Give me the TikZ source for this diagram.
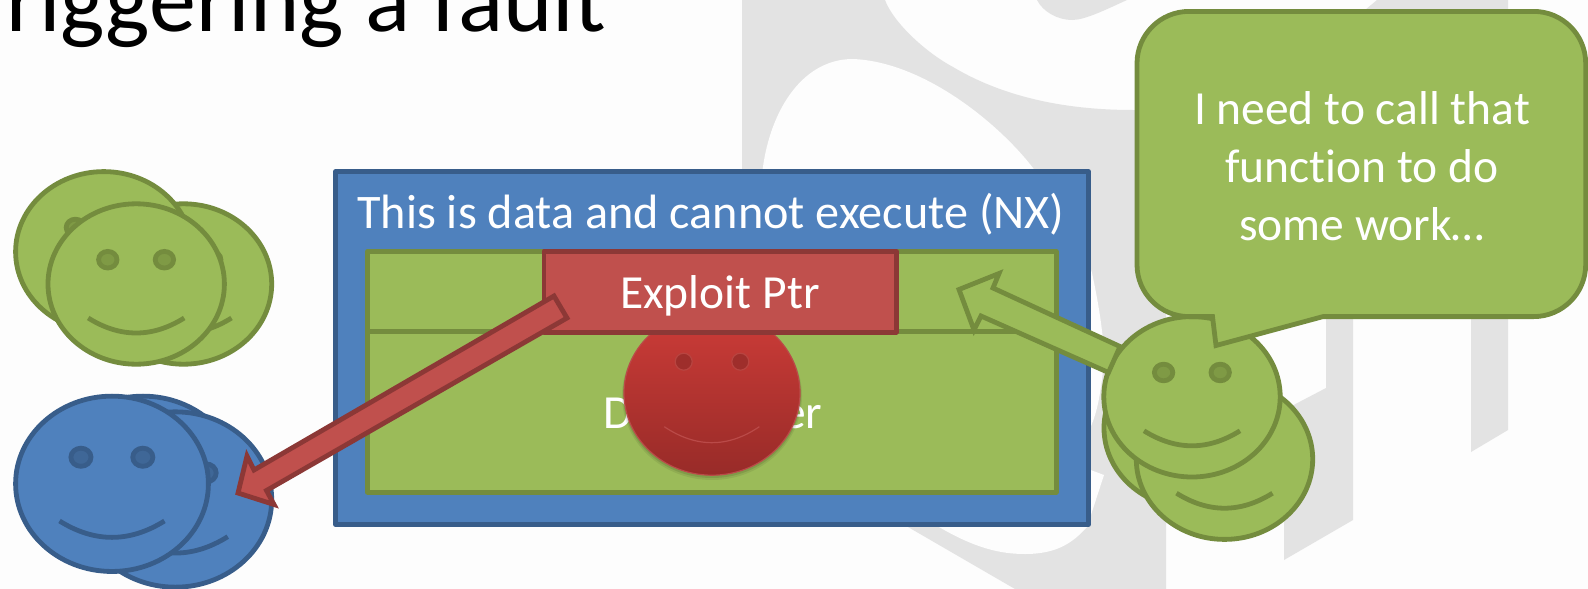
\documentclass[tikz,border=0pt]{standalone}
\usepackage{fontspec}
\setmainfont[Ligatures=NoCommon]{Carlito}
\definecolor{paper}{HTML}{FDFDFD}
\definecolor{mark}{HTML}{E3E3E3}
\definecolor{leaf}{HTML}{9BBB59}
\definecolor{leafedge}{HTML}{748C3E}
\definecolor{leafeye}{HTML}{7F9A45}
\definecolor{sky}{HTML}{4F81BD}
\definecolor{skyedge}{HTML}{385D8A}
\definecolor{skyeye}{HTML}{3F6797}
\definecolor{rust}{HTML}{C0504D}
\definecolor{rustedge}{HTML}{8C3836}
\definecolor{facetop}{RGB}{205,60,56}
\definecolor{facebottom}{RGB}{152,43,40}
\definecolor{faceedge}{RGB}{186,74,72}
\definecolor{facefeature}{RGB}{158,46,43}
\definecolor{facefeatureedge}{RGB}{184,68,64}
\tikzset{
  greenface/.style={fill=leaf,draw=leafedge,line width=4.8pt},
  greeneye/.style={fill=leafeye,draw=leafedge,line width=4.8pt},
  greensmile/.style={draw=leafedge,line width=4.8pt},
  blueface/.style={fill=sky,draw=skyedge,line width=4.8pt},
  blueeye/.style={fill=skyeye,draw=skyedge,line width=4.8pt},
  bluesmile/.style={draw=skyedge,line width=4.8pt},
  greenbox/.style={rectangle,fill=leaf,draw=leafedge,line width=4.8pt,inner sep=0pt,line join=round},
  bluebox/.style={rectangle,fill=sky,draw=skyedge,line width=4.8pt,inner sep=0pt,line join=round},
  redbox/.style={rectangle,fill=rust,draw=rustedge,line width=4.8pt,inner sep=0pt,line join=round},
  redarrow/.style={fill=rust,draw=rustedge,line width=4.8pt,line join=miter},
  greenarrow/.style={fill=leaf,draw=leafedge,line width=4.8pt,line join=miter},
  slidetext/.style={text=white,inner sep=0pt,font=\fontsize{47.5}{58}\selectfont},
  widetext/.style={text=white,inner sep=0pt,font=\fontsize{48.2}{58}\selectfont},
  headline/.style={text=black,inner sep=0pt,font=\fontsize{94}{94}\selectfont},
  watermark/.style={fill=mark,draw=none},
  hole/.style={fill=paper,draw=none},
  redfeature/.style={fill=facefeature,draw=facefeatureedge,line width=1.2pt}
}
% Smiling face: name, centre x, centre y, scale, colour prefix
\newcommand{\smiley}[5]{%
  \begin{scope}[shift={(#2,#3)},scale=#4]
    \coordinate (#1) at (0,0);
    \path[#5face] (0,0) ellipse [x radius=88.2,y radius=80.2];
    \path[#5eye] (-28.4,-24.3) ellipse [x radius=9.2,y radius=8.3];
    \path[#5eye] (28.2,-24.3) ellipse [x radius=9.2,y radius=8.3];
    \path[#5smile] (-48,34) .. controls (-16,54) and (16,54) .. (48,34);
  \end{scope}}
\begin{document}
\begin{tikzpicture}[x=1pt,y=-1pt]
\useasboundingbox (0,0) rectangle (1588,589);
\clip (0,0) rectangle (1588,589);
\fill[paper] (0,0) rectangle (1588,589);

% Grey letterform behind the slide content
\path[watermark] (742,0) -- (885,0)
  .. controls (893,22) and (925,52) .. (953,67)
  .. controls (1000,95) and (1060,110) .. (1133,110)
  -- (1166,110) -- (1166,589) -- (1015,589) -- (908,527) -- (742,400) -- cycle;
\path[hole] (762,175) .. controls (768,115) and (800,59) .. (853,59)
  .. controls (925,62) and (1000,125) .. (1033,168)
  .. controls (1060,205) and (1085,245) .. (1092,273)
  .. controls (1100,310) and (1106,350) .. (1103,370)
  .. controls (1100,400) and (1095,420) .. (1088,432)
  -- (900,400) -- (762,400) -- cycle;
\path[hole] (939,527) .. controls (975,548) and (1000,554) .. (1025,554)
  .. controls (1060,554) and (1075,540) .. (1087,527)
  -- (1104,475) -- (1088,469) -- (939,469) -- cycle;
\path[watermark] (1037,0) .. controls (1043,12) and (1058,20) .. (1072,20)
  .. controls (1085,20) and (1105,10) .. (1127,0) -- cycle;
\path[watermark] (1353,20) -- (1377,0) -- (1508,0) -- (1508,430) -- (1471,452) -- (1471,20) -- cycle;
\path[watermark] (1284,410) -- (1326,388) -- (1326,300) -- (1353,300) -- (1353,520) -- (1284,560) -- cycle;

% Cropped slide heading
\node[headline,anchor=base east] (heading) at (606,31) {Triggering a fault};

% Memory region and its two buffers
\node[bluebox,minimum width=753pt,minimum height=353pt] (frame) at (712,348) {};
\node[widetext,anchor=base] (framelabel) at (711,228) {This is data and cannot execute (NX)};
\node[greenbox,minimum width=688.6pt,minimum height=80.4pt] (upperbuf) at (711.8,291.5) {};
\node[greenbox,minimum width=688.6pt,minimum height=160.4pt] (lowerbuf) at (711.8,412) {};
\node[slidetext,anchor=base] (buflabel) at (713,428) {Data Buffer};

% Attacker face with soft shadow
\fill[black,opacity=.07] (712,396) ellipse [x radius=90,y radius=84];
\fill[black,opacity=.10] (712,395) ellipse [x radius=89,y radius=83];
\coordinate (attacker) at (712,393);
\path[top color=facetop,bottom color=facebottom,draw=faceedge,line width=1.2pt]
  (attacker) ellipse [x radius=88,y radius=82.2];
\path[redfeature] (683.7,361.7) ellipse [x radius=8.5,y radius=8.5];
\path[redfeature] (740.3,361.7) ellipse [x radius=8.5,y radius=8.5];
\draw[draw=faceedge,line width=1.2pt] (664.3,426.7) .. controls (696,448) and (728,448) .. (759.3,426.7);

% Corrupted pointer
\node[redbox,minimum width=352.4pt,minimum height=80.6pt] (exploit) at (720.1,291.8) {};
\node[slidetext,anchor=base] (exploitlabel) at (720,308.3) {Exploit Ptr};

% Left-hand crowds
\smiley{gb}{183.5}{284}{1}{green}
\smiley{gl}{103.8}{251.8}{1}{green}
\smiley{gf}{136.2}{284}{1}{green}
\smiley{bb}{143}{483.8}{1.093}{blue}
\smiley{br}{175.3}{499.5}{1.093}{blue}
\smiley{bf}{112}{483.8}{1.093}{blue}

% Right-hand crowd
\smiley{rl}{1192.2}{428}{1}{green}
\smiley{rr}{1224.5}{459.2}{1}{green}
\smiley{rf}{1192}{396.8}{1}{green}

% Block arrows
\path[redarrow] (554,296) -- (567,318) -- (266.5,490.5) -- (274,504.5) -- (238,493)
  -- (247,456) -- (254,470) -- cycle;
\path[greenarrow] (959,289.5) -- (999,273.5) -- (993,288) -- (1120,346.5) -- (1108.5,372.5)
  -- (981,316) -- (974,330) -- cycle;

% Speech bubble
\path[greenarrow] (1137,63.4) .. controls (1137,34.7) and (1160.3,11.4) .. (1189,11.4)
  -- (1533.7,11.4) .. controls (1562.4,11.4) and (1585.7,34.7) .. (1585.7,63.4)
  -- (1585.7,264.6) .. controls (1585.7,293.3) and (1562.4,316.6) .. (1533.7,316.6)
  -- (1323,316.6) -- (1216,345.5) -- (1212.5,316.6) -- (1189,316.6)
  .. controls (1160.3,316.6) and (1137,293.3) .. (1137,264.6) -- cycle;
\node[slidetext,align=center] (speech) at (1362,166) {I need to call that\\function to do\\some work…};
\end{tikzpicture}
\end{document}
